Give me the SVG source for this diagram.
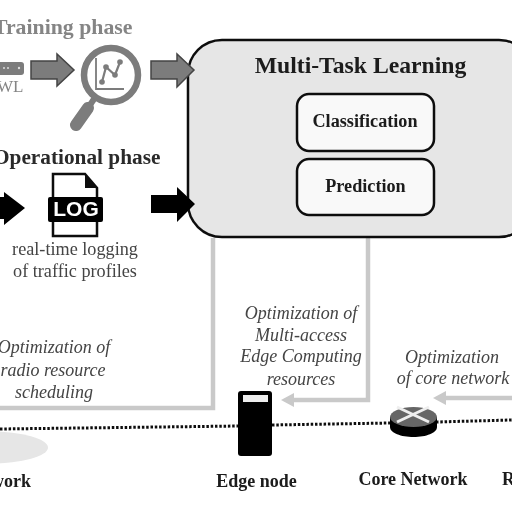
<svg xmlns="http://www.w3.org/2000/svg" width="512" height="512" viewBox="0 0 512 512">
<defs>
<filter id="b" x="-10%" y="-10%" width="120%" height="120%"><feGaussianBlur stdDeviation="0.7"/></filter>
</defs>
<style>
text{font-family:"Liberation Serif",serif}
.h{font-weight:bold}
.o{font-style:italic;fill:#444;font-size:18px;text-anchor:middle}
.n{font-weight:bold;font-size:18px;fill:#1a1a1a;text-anchor:middle}
.t{font-size:18.200px;fill:#444;text-anchor:middle}
.b{font-weight:bold;font-size:18.200px;fill:#1a1a1a;text-anchor:middle}
.c{fill:none;stroke:#c9c9c9;stroke-width:4.500}
.g{fill:#c9c9c9}
.d{fill:none;stroke:#111;stroke-width:3;stroke-dasharray:2.500 1.800}
.ga{fill:#7b7b7b;stroke:#444;stroke-width:1.500}
.box{fill:#f9f9f9;stroke:#111;stroke-width:2.500}
</style>
<rect width="512" height="512" fill="#fff"/>
<g filter="url(#b)">
<g id="radio-network">
<ellipse cx="-10" cy="447.500" rx="58" ry="16" fill="#e6e6e6"/>
<text x="31" y="487" class="n" style="text-anchor:end">work</text>
</g>
<g id="connectors">
<path class="c" d="M213 238V408H0"/>
<path class="c" d="M368 238V400H290"/>
<path class="g" d="M281 400L294 393V407Z"/>
<path class="c" d="M512 398H442"/>
<path class="g" d="M433 398L446 391V405Z"/>
<path class="d" d="M0 429L240 426"/>
<path class="d" d="M272 425L390 423"/>
<path class="d" d="M436 422L512 420"/>
<path class="ga" d="M31 61H57V54L74 70L57 86V79H31Z"/>
<path d="M0 197H4V192L25 208L4 225V219H0Z" fill="#000"/>
</g>
<g id="mtl">
<rect x="188" y="40" width="345" height="197" rx="34" fill="#e6e6e6" stroke="#111" stroke-width="2.500"/>
<text x="360.500" y="73" class="h" font-size="23.700" text-anchor="middle" fill="#1a1a1a">Multi-Task Learning</text>
</g>
<g id="arrows-in">
<path class="ga" d="M151 61H177V54L194 70L177 87V79H151Z"/>
<path d="M151 195H177V187L195 204L177 222V213H151Z" fill="#000"/>
</g>
<g id="classification">
<rect class="box" x="297" y="94" width="137" height="57" rx="12"/>
<text x="365" y="127" class="b">Classification</text>
</g>
<g id="prediction">
<rect class="box" x="297" y="159" width="137" height="56" rx="12"/>
<text x="365.500" y="191.500" class="b">Prediction</text>
</g>
<g id="training">
<text x="-7" y="34" class="h" font-size="21.800" fill="#858585">Training phase</text>
<rect x="-6" y="62" width="30" height="13" rx="3" fill="#7b7b7b"/>
<circle cx="4" cy="68" r="1" fill="#ddd"/><circle cx="8" cy="68" r="1" fill="#ddd"/><circle cx="19" cy="68" r="1.200" fill="#ddd"/>
<text x="-3" y="92" font-size="17" fill="#858585">WL</text>
</g>
<g id="magnifier" fill="none" stroke="#7b7b7b">
<circle cx="111" cy="75" r="27" stroke-width="6.500"/>
<path d="M96 58V89H124" stroke-width="1.800"/>
<path d="M102 82L106 67L115 75L120 62" stroke-width="2.200"/>
<g fill="#7b7b7b" stroke="none"><circle cx="102" cy="82" r="2.800"/><circle cx="106" cy="67" r="2.800"/><circle cx="115" cy="75" r="2.800"/><circle cx="120" cy="62" r="2.800"/></g>
<path d="M94 99L90 105" stroke-width="6"/>
<path d="M88 108L76 125" stroke-width="12" stroke-linecap="round"/>
</g>
<g id="operational">
<text x="-7" y="164" class="h" font-size="21.300" fill="#2a2a2a">Operational phase</text>
</g>
<g id="log">
<path d="M53 174H85L97 188V236H53Z" fill="#fff" stroke="#111" stroke-width="2.500"/>
<path d="M85 174L97 188H85Z" fill="#111"/>
<rect x="48" y="197" width="55" height="25" rx="2" fill="#000"/>
<text x="76" y="216" font-weight="bold" font-size="21" text-anchor="middle" fill="#fff" style="font-family:'Liberation Sans',sans-serif">LOG</text>
<text x="75" y="255" class="t">real-time logging</text>
<text x="75" y="277" class="t">of traffic profiles</text>
</g>
<g id="opt-radio">
<text x="54" y="353" class="o" font-style="italic">Optimization of</text>
<text x="53" y="376" class="o" font-style="italic">radio resource</text>
<text x="54" y="398" class="o" font-style="italic">scheduling</text>
</g>
<g id="opt-mec">
<text x="301" y="319" class="o" font-style="italic">Optimization of</text>
<text x="301" y="341" class="o" font-style="italic">Multi-access</text>
<text x="301" y="362" class="o" font-style="italic">Edge Computing</text>
<text x="301" y="385" class="o" font-style="italic">resources</text>
</g>
<g id="opt-core">
<text x="452" y="363" class="o" font-style="italic">Optimization</text>
<text x="453" y="384" class="o" font-style="italic">of core network</text>
</g>
<g id="edge-node">
<rect x="238" y="391" width="34" height="65" rx="3" fill="#000"/>
<rect x="243" y="395" width="25" height="7" fill="#eee"/>
<text x="256.500" y="487" class="n">Edge node</text>
</g>
<g id="core-network">
<path d="M390 417V427C390 433 401 437 413.500 437S437 433 437 427V417Z" fill="#000"/>
<ellipse cx="413.500" cy="417" rx="23.500" ry="10" fill="#666"/>
<path d="M397 422L429 407M397 407L429 422" stroke="#eee" stroke-width="3" fill="none"/>
<text x="413" y="485" class="n">Core Network</text>
</g>
<g id="radio-label">
<text x="502" y="485" class="n" style="text-anchor:start">R</text>
</g>
</g>
</svg>
